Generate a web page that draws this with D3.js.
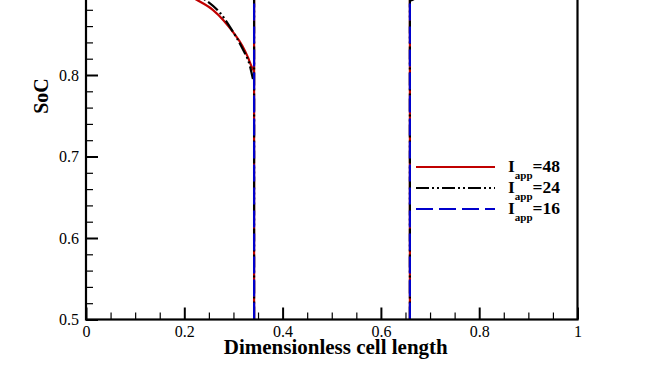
<!DOCTYPE html>
<html lang="en">
  <head>
    <meta charset='utf-8'>
    <script type="text/javascript" src="https://cdn.jsdelivr.net/npm/d3@7/dist/d3.min.js"></script>
    <title>SoC</title>
    <style>
      body{margin:0;background:white;}
      text{font-family:"Liberation Serif","Times New Roman",serif;}
    </style>
  </head>
  <body>
    <div id="chart"></div>
    <script type="text/javascript">
      //Data
      var xTicks=[0,0.2,0.4,0.6,0.8,1];
      var xTickLabels=["0","0.2","0.4","0.6","0.8","1"];
      var yTicks=[0.5,0.6,0.7,0.8];
      var yTickLabels=["0.5","0.6","0.7","0.8"];
      var interfaces=[0.342,0.659];
      var red48Left=[[0.20,0.900],[0.226,0.892],[0.258,0.880],[0.280,0.867],[0.300,0.852],[0.318,0.836],[0.330,0.821],[0.338,0.809],[0.342,0.805]];
      var red48Right=[[0.659,0.892],[0.670,0.895],[0.700,0.912]];
      var black24Left=[[0.20,0.902],[0.248,0.890],[0.273,0.876],[0.297,0.855],[0.317,0.834],[0.334,0.810],[0.340,0.794]];
      var black24Right=[[0.659,0.891],[0.670,0.894],[0.700,0.910]];
      var blue16Left=[];
      var blue16Right=[];
      var seriesNames=["48","24","16"];

      var w=658,h=385;
      var pLeft=86,pRight=577.5,pBottom=319.5,pTop=-88;
      var svg=d3.select("#chart").append("svg")
        .attr("width",w).attr("height",h);

      var x=d3.scaleLinear().domain([0,1]).range([pLeft,pRight]);
      var y=d3.scaleLinear().domain([0.5,1]).range([pBottom,pTop]);

      svg.append("clipPath").attr("id","plotclip")
        .append("rect").attr("x",pLeft).attr("y",pTop)
        .attr("width",pRight-pLeft).attr("height",pBottom-pTop);

      var styles=[
        {color:"#c00000",dash:null,left:red48Left,right:red48Right},
        {color:"#000000",dash:"13,3,2,3,2,3",left:black24Left,right:black24Right},
        {color:"#0000cc",dash:"17,6",left:blue16Left,right:blue16Right}
      ];

      var line=d3.line()
        .x(function(d){return x(d[0]);})
        .y(function(d){return y(d[1]);})
        .curve(d3.curveMonotoneX);

      var plot=svg.append("g").attr("clip-path","url(#plotclip)");
      styles.forEach(function(s){
        var g=plot.append("g")
          .attr("fill","none")
          .attr("stroke",s.color)
          .attr("stroke-width",2.2)
          .attr("stroke-dasharray",s.dash);
        [s.left,s.right].forEach(function(seg){
          if(seg.length>1) g.append("path").attr("d",line(seg));
        });
        //Vertical lines at the region interfaces
        g.selectAll(".iface").data(interfaces).enter()
          .append("line").attr("class","iface")
          .attr("x1",function(d){return x(d);})
          .attr("x2",function(d){return x(d);})
          .attr("y1",y(0.5)).attr("y2",y(1));
      });

      //Frame
      svg.append("rect")
        .attr("x",pLeft).attr("y",pTop)
        .attr("width",pRight-pLeft).attr("height",pBottom-pTop)
        .attr("fill","none").attr("stroke","black").attr("stroke-width",2.2);

      //Inward ticks
      var xAxis=d3.axisBottom(x).tickValues(xTicks)
        .tickSize(-12).tickPadding(15)
        .tickFormat(function(d,i){return xTickLabels[i];});
      var gx=svg.append("g").attr("transform","translate(0,"+pBottom+")").call(xAxis);
      var xMinor=d3.axisBottom(x).tickValues(d3.range(0.05,1,0.05).filter(function(v){return Math.abs(v*5-Math.round(v*5))>1e-6;}))
        .tickSize(-7).tickFormat("");
      var gxm=svg.append("g").attr("transform","translate(0,"+pBottom+")").call(xMinor);

      var yAxis=d3.axisLeft(y).tickValues(yTicks)
        .tickSize(-12).tickPadding(7)
        .tickFormat(function(d,i){return yTickLabels[i];});
      var gy=svg.append("g").attr("transform","translate("+pLeft+",0)").call(yAxis);
      var yMinor=d3.axisLeft(y).tickValues(d3.range(0.52,1,0.02).filter(function(v){return Math.abs(v*10-Math.round(v*10))>1e-6;}))
        .tickSize(-7).tickFormat("");
      var gym=svg.append("g").attr("transform","translate("+pLeft+",0)").call(yMinor);

      [gx,gxm,gy,gym].forEach(function(g){
        g.select(".domain").remove();
        g.selectAll("text").attr("font-size","16px").attr("fill","black")
          .style("font-family","'Liberation Serif',serif");
      });
      gx.selectAll(".tick line").attr("stroke","black").attr("stroke-width",2);
      gy.selectAll(".tick line").attr("stroke","black").attr("stroke-width",2);
      gxm.selectAll(".tick line").attr("stroke","black").attr("stroke-width",1.2);
      gym.selectAll(".tick line").attr("stroke","black").attr("stroke-width",1.2);
      gx.selectAll("text").attr("dy","0.71em").attr("y",6);

      //Axis titles
      svg.append("text")
        .attr("x",(pLeft+pRight)/2+4).attr("y",354)
        .attr("text-anchor","middle")
        .attr("font-weight","bold").attr("font-size","21px")
        .text("Dimensionless cell length");
      svg.append("text")
        .attr("transform","translate(47.5,96) rotate(-90)")
        .attr("text-anchor","middle")
        .attr("font-weight","bold").attr("font-size","20px")
        .text("SoC");

      //Legend
      var legend=svg.append("g");
      styles.forEach(function(s,i){
        var ly=167+i*21;
        legend.append("line")
          .attr("x1",416).attr("x2",495)
          .attr("y1",ly).attr("y2",ly)
          .attr("stroke",s.color).attr("stroke-width",2.2)
          .attr("stroke-dasharray",s.dash);
        var t=legend.append("text")
          .attr("x",508).attr("y",ly+5)
          .attr("font-weight","bold").attr("font-size","17.5px");
        t.append("tspan").text("I");
        t.append("tspan").attr("font-size","11px").attr("dy",7).text("app");
        t.append("tspan").attr("dy",-7).text("="+seriesNames[i]);
      });
    </script>
  </body>
</html>
